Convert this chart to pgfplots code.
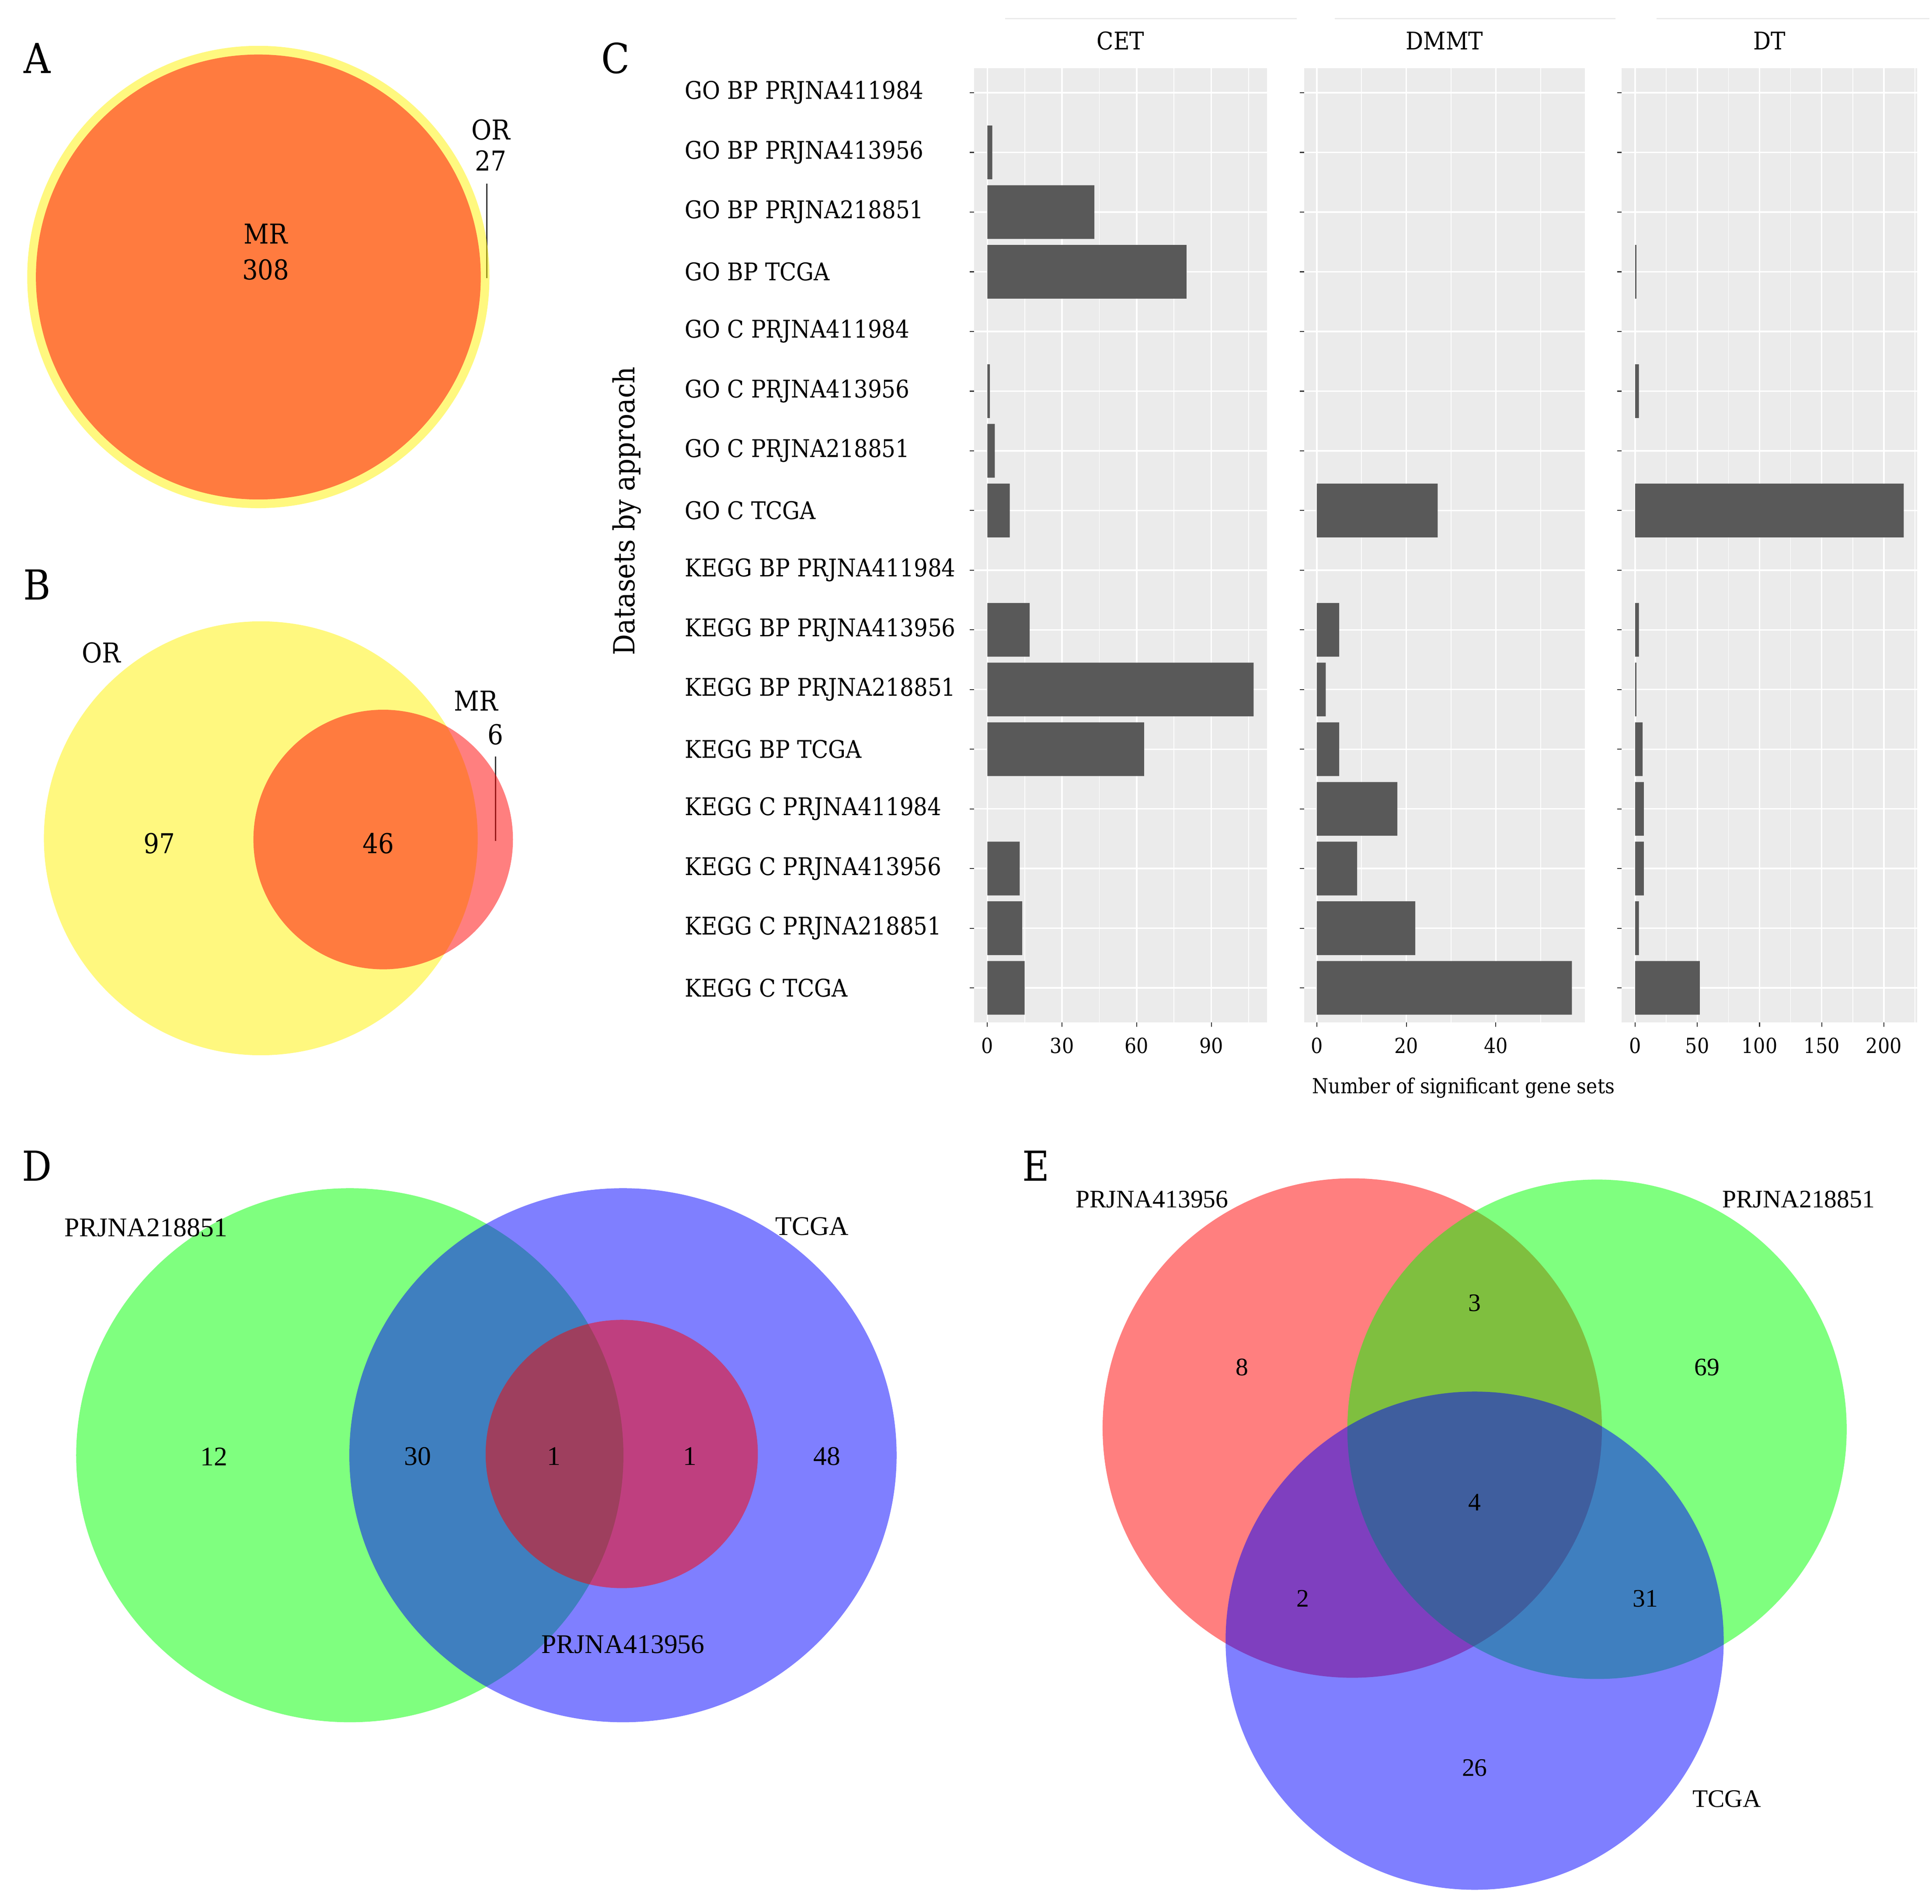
\documentclass[border=0pt]{standalone}
\usepackage{pgfplots}
\pgfplotsset{compat=1.18}
\usepackage{fontspec}
\setmainfont{DejaVu Serif}[FakeStretch=0.9]
\newfontfamily\tms{Liberation Serif}

\definecolor{ggpanel}{HTML}{EBEBEB}
\definecolor{ggbar}{HTML}{595959}
\definecolor{ggdark}{HTML}{333333}

\newcommand{\fs}[1]{\fontsize{#1}{#1}\selectfont}

\pgfplotsset{
  facet/.style={
    scale only axis, height=7.72cm, anchor=north west,
    xbar, bar width=0.9, bar shift=0pt,
    y dir=reverse, ymin=0.586, ymax=16.58, ytick={1,...,16},
    axis background/.style={fill=ggpanel},
    axis line style={draw=none},
    xmajorgrids, xminorgrids, ymajorgrids,
    major grid style={white, line width=0.34pt},
    minor grid style={white, line width=0.17pt},
    tick align=outside, major tick length=0.035cm, minor tick length=0pt,
    major tick style={ggdark, line width=0.22pt},
    xtick pos=bottom, ytick pos=left,
    /pgf/number format/assume math mode=true,
    xticklabel style={font=\fs{4.8}, inner sep=0pt, yshift=-0.08cm},
    every axis title shift=0pt,
    title style={font=\fs{5.6}, at={(0.5,1.0285)}, anchor=center},
    yticklabels={},
  },
  gbar/.style={fill=ggbar, draw=none},
  venn/.style={only marks, mark=*, mark options={draw opacity=0, line width=0pt, fill=#1, fill opacity=0.5}},
  txt/.style={only marks, mark=none, point meta=explicit symbolic, nodes near coords,
    every node near coord/.append style={anchor=center, inner sep=0pt, font=#1}},
}

\begin{document}
\begin{tikzpicture}
\useasboundingbox (0,0) rectangle (15.63cm,-15.40cm);

% Venn panels A, B, D, E (units = reference pixels / 2.827)
\begin{axis}[at={(0cm,0cm)}, anchor=north west, scale only axis,
  width=15.63cm, height=15.40cm, xmin=0, xmax=1563, ymin=0, ymax=1540,
  y dir=reverse, hide axis, clip=false]
% A
\addplot[venn=yellow, mark size=53.2pt] coordinates {(209,224)};
\addplot[venn=red, mark size=51.2pt] coordinates {(209,224)};
\addplot[ggdark, line width=0.3pt] coordinates {(393.8,148.6) (393.8,224.8)};
% B
\addplot[venn=yellow, mark size=49.93pt] coordinates {(211,678)};
\addplot[venn=red, mark size=29.87pt] coordinates {(310,679)};
\addplot[ggdark, line width=0.3pt] coordinates {(401,612) (401,680)};
% D
\addplot[venn=green, mark size=61.45pt, every mark/.append style={xscale=1.025}] coordinates {(283,1177)};
\addplot[venn=blue, mark size=61.45pt, every mark/.append style={xscale=1.025}] coordinates {(504,1177)};
\addplot[venn=red, mark size=30.87pt, every mark/.append style={xscale=1.015}] coordinates {(503,1176)};
% E
\addplot[venn=red, mark size=57.47pt] coordinates {(1094,1155)};
\addplot[venn=green, mark size=57.47pt] coordinates {(1292,1156)};
\addplot[venn=blue, mark size=57.33pt] coordinates {(1193,1327)};

\addplot[txt=\fs{9.5}] table[meta=t, row sep=\\] {
x y t\\ 30 47 A\\ 30 473 B\\ 498 47 C\\ 30 943 D\\ 838 943 E\\
};
\addplot[txt=\fs{6.3}] table[meta=t, row sep=\\] {
x y t\\ 215 189 MR\\ 215 218 308\\ 397 105 OR\\ 397 130 27\\
82 528 OR\\ 385 567 MR\\ 401 594 6\\ 129 682 97\\ 306 682 46\\
};
\addplot[txt={\tms\fs{6.2}}] table[meta=t, row sep=\\] {
x y t\\ 118 993 PRJNA218851\\ 657 992 TCGA\\ 504 1330 PRJNA413956\\
173 1178 12\\ 338 1178 30\\ 448 1178 1\\ 558 1178 1\\ 669 1178 48\\
};
\addplot[txt={\tms\fs{5.8}}] table[meta=t, row sep=\\] {
x y t\\ 932 970 PRJNA413956\\ 1455 970 PRJNA218851\\ 1397 1455 TCGA\\
1005 1106 8\\ 1193 1054 3\\ 1381 1106 69\\ 1193 1215 4\\
1054 1293 2\\ 1331 1293 31\\ 1193 1430 26\\
};
\end{axis}

% thin strip remnants above the facets
\draw[ggpanel, line width=0.3pt] (8.13cm,-0.151cm) -- (10.49cm,-0.151cm);
\draw[ggpanel, line width=0.3pt] (10.80cm,-0.151cm) -- (13.07cm,-0.151cm);
\draw[ggpanel, line width=0.3pt] (13.40cm,-0.151cm) -- (15.61cm,-0.151cm);

% Panel C: CET
\begin{axis}[facet, at={(7.88cm,-0.55cm)}, width=2.37cm,
  xmin=-5.35, xmax=112.35, xtick={0,30,60,90}, minor xtick={15,45,75,105},
  title=CET,
  yticklabels={GO BP PRJNA411984, GO BP PRJNA413956, GO BP PRJNA218851, GO BP TCGA,
    GO C PRJNA411984, GO C PRJNA413956, GO C PRJNA218851, GO C TCGA,
    KEGG BP PRJNA411984, KEGG BP PRJNA413956, KEGG BP PRJNA218851, KEGG BP TCGA,
    KEGG C PRJNA411984, KEGG C PRJNA413956, KEGG C PRJNA218851, KEGG C TCGA},
  yticklabel style={font=\fs{5.6}, anchor=west, inner sep=0pt, xshift=-2.31cm},
  ylabel={Datasets by approach},
  ylabel style={font=\fs{6.7}, at={(axis description cs:-1.1857,0.536)}, anchor=center},
]
\addplot[gbar] coordinates {(2,2) (43,3) (80,4) (1,6) (3,7) (9,8) (17,10) (107,11) (63,12) (13,14) (14,15) (15,16)};
\end{axis}

% Panel C: DMMT
\begin{axis}[facet, at={(10.55cm,-0.55cm)}, width=2.27cm,
  xmin=-2.85, xmax=59.85, xtick={0,20,40}, minor xtick={10,30,50},
  title=DMMT,
  xlabel={Number of significant gene sets},
  xlabel style={font=\fs{4.77}, at={(axis description cs:0.568,-0.0687)}, anchor=center},
]
\addplot[gbar] coordinates {(27,8) (5,10) (2,11) (5,12) (18,13) (9,14) (22,15) (57,16)};
\end{axis}

% Panel C: DT
\begin{axis}[facet, at={(13.12cm,-0.55cm)}, width=2.39cm,
  xmin=-10.8, xmax=226.8, xtick={0,50,100,150,200}, minor xtick={25,75,125,175,225},
  title=DT,
]
\addplot[gbar] coordinates {(1,4) (3,6) (216,8) (3,10) (1,11) (6,12) (7,13) (7,14) (3,15) (52,16)};
\end{axis}
\end{tikzpicture}
\end{document}
